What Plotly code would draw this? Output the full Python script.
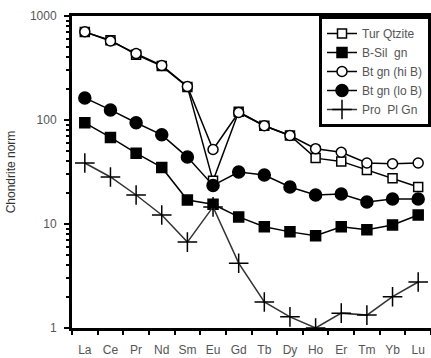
import plotly.graph_objects as go

elements = ["La", "Ce", "Pr", "Nd", "Sm", "Eu", "Gd", "Tb", "Dy", "Ho", "Er", "Tm", "Yb", "Lu"]

tur_qtzite = [700, 585, 425, 330, 208, 26, 120, 88, 71, 43, 40, 33, 27.5, 22.7]
b_sil_gn = [94, 68, 48, 35, 17, 15.5, 11.7, 9.4, 8.4, 7.7, 9.4, 8.8, 9.8, 12.2]
bt_gn_hi_b = [705, 575, 435, 335, 210, 52, 118, 88, 71, 53, 49, 38.6, 38, 38.6]
bt_gn_lo_b = [163, 125, 94, 72, 44, 23.5, 31.6, 29.6, 22.7, 19, 19.4, 16.3, 17.4, 17.4]
pro_pl_gn = [38.6, 28.3, 19, 12.2, 6.7, 14.6, 4.2, 1.78, 1.28, 1.0, 1.39, 1.33, 2.0, 2.77]

series_names = ["Tur Qtzite", "B-Sil  gn", "Bt gn (hi B)", "Bt gn (lo B)", "Pro  Pl Gn"]

ytick_vals = [1, 10, 100, 1000]
ytick_text = ["1", "10", "100", "1000"]

FONT = "Liberation Sans"
GRAY = "#555555"

fig = go.Figure()

def add(name, vals, symbol, fill, size, lcolor="black", lw=1.5):
    fig.add_trace(go.Scatter(
        x=elements, y=vals, name=name, mode="lines+markers",
        line=dict(color=lcolor, width=lw),
        marker=dict(symbol=symbol, size=size, color=fill,
                    line=dict(color="black", width=1.5)),
    ))

add(series_names[0], tur_qtzite, "square", "white", 9)
add(series_names[1], b_sil_gn, "square", "black", 10)
add(series_names[2], bt_gn_hi_b, "circle", "white", 10)
add(series_names[3], bt_gn_lo_b, "circle", "black", 12)
add(series_names[4], pro_pl_gn, "cross-thin", "black", 14, lcolor="#333333", lw=1.5)

fig.update_layout(
    width=431, height=358,
    margin=dict(l=72, r=0, t=16, b=30),
    paper_bgcolor="white", plot_bgcolor="white",
    font=dict(family=FONT, size=12, color=GRAY),
    showlegend=True,
    legend=dict(
        x=1, xanchor="right", y=1, yanchor="top",
        bgcolor="white", bordercolor="black", borderwidth=3,
        font=dict(family=FONT, size=12, color=GRAY),
        itemwidth=30, tracegroupgap=0,
    ),
)

fig.update_xaxes(
    type="category", categoryorder="array", categoryarray=elements,
    range=[-0.5, 13.5],
    showline=True, linecolor="black", linewidth=3, mirror=True,
    ticks="outside", tickson="boundaries", ticklen=4, tickcolor="black", tickwidth=2,
    showgrid=False, zeroline=False, tickangle=0,
    tickfont=dict(family=FONT, size=12, color=GRAY),
    ticklabelstandoff=9,
)

fig.update_yaxes(
    type="log", range=[0, 3],
    tickvals=ytick_vals, ticktext=ytick_text,
    showline=True, linecolor="black", linewidth=3, mirror=False,
    ticks="outside", ticklen=5, tickcolor="black", tickwidth=2,
    minor=dict(ticks="outside", ticklen=3, tickcolor="black", tickwidth=1.5,
               dtick="D1", showgrid=False),
    showgrid=False, zeroline=False,
    tickfont=dict(family=FONT, size=12, color=GRAY),
    ticklabelstandoff=5,
    title=dict(text="Chondrite norm", font=dict(family=FONT, size=12, color="#333333"), standoff=12),
)

fig.write_html("out.html", config={"displayModeBar": False},
               post_script="document.body.style.margin='0';document.body.style.padding='0';")
